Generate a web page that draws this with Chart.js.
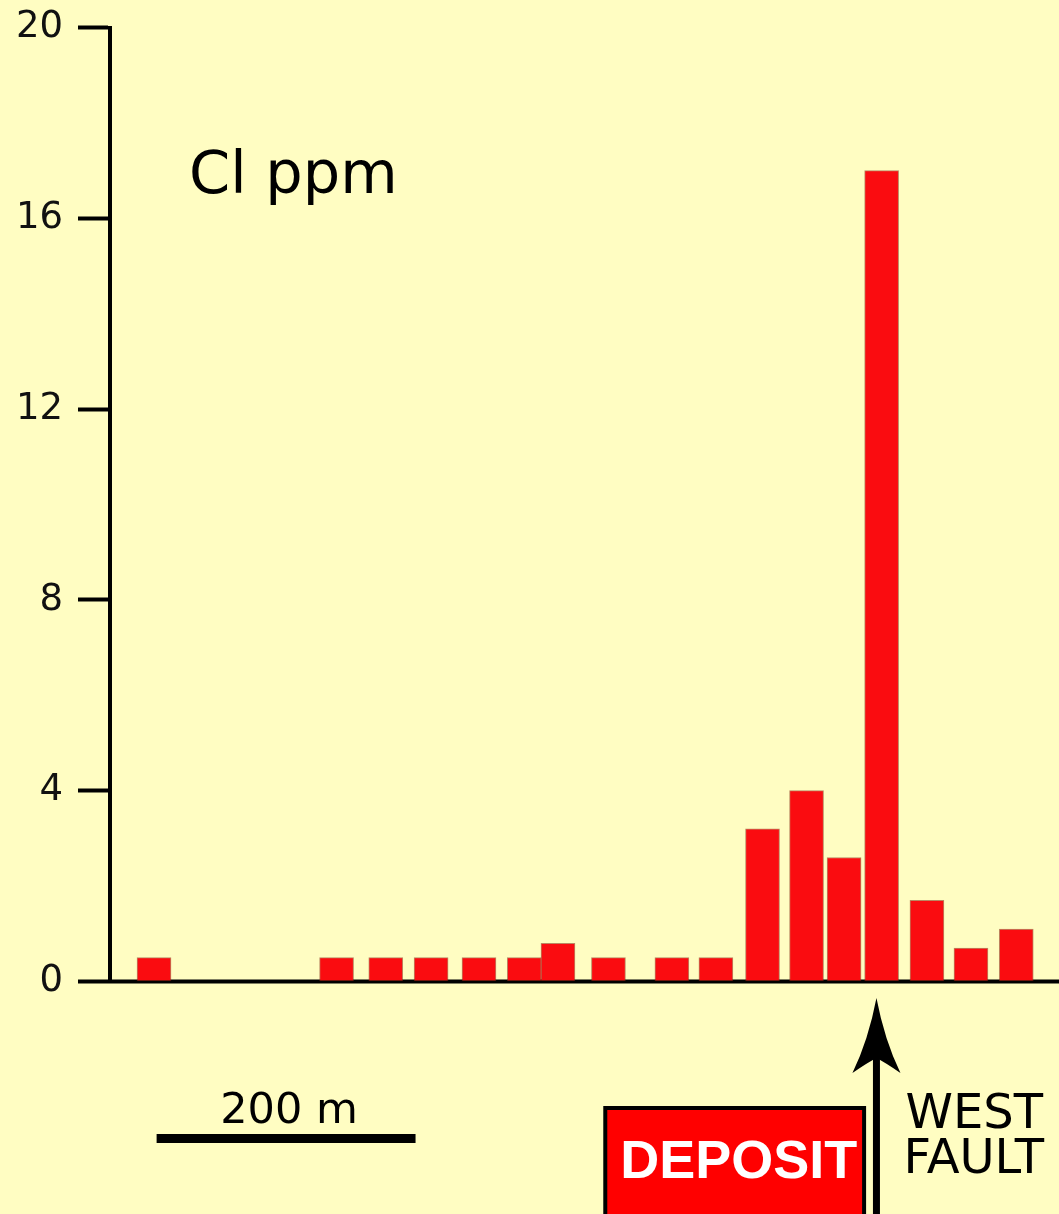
<!DOCTYPE html>
<html>
<head>
<meta charset="utf-8">
<script src="https://cdn.jsdelivr.net/npm/chart.js@4/dist/chart.umd.min.js"></script>
<style>
  html, body { margin: 0; padding: 0; background: #FFFDC2; }
  #wrap { width: 1059px; height: 1214px; }
</style>
</head>
<body>
<div id="wrap"><canvas id="chart" width="1059" height="1214"></canvas></div>
<script>
// sample positions along the traverse (m) and chloride values (ppm)
const distance_m = [34, 175, 213, 248, 285, 320, 346, 385, 434, 468, 504, 538, 567, 596, 631, 665, 700];
const cl_ppm     = [0.5, 0.5, 0.5, 0.5, 0.5, 0.5, 0.8, 0.5, 0.5, 0.5, 3.2, 4.0, 2.6, 17.0, 1.7, 0.7, 1.1];

// annotation positions (m along the traverse)
const scaleBar_m = [36, 236];
const deposit_m = [381, 584];
const fault_m = 592;

const BG = '#FFFDC2';

const points = distance_m.map((d, i) => ({ x: d, y: cl_ppm[i] }));

var decorPlugin = {
    id: 'decor',
    beforeDraw: function(chart)
    {
        const ctx = chart.ctx;
        ctx.save();
        ctx.fillStyle = BG;
        ctx.fillRect(0, 0, chart.width, chart.height);
        ctx.restore();
    },
    beforeDatasetsDraw: function(chart)
    {
        //baseline along the traverse
        const ctx = chart.ctx;
        const y0 = chart.scales.y.getPixelForValue(0);
        ctx.save();
        ctx.strokeStyle = '#000';
        ctx.lineWidth = 4;
        ctx.beginPath();
        ctx.moveTo(chart.chartArea.left - 2, y0);
        ctx.lineTo(chart.width, y0);
        ctx.stroke();
        ctx.restore();
    },
    afterDraw: function(chart)
    {
        const ctx = chart.ctx;
        const xs = chart.scales.x;
        ctx.save();

        //label
        ctx.fillStyle = '#000';
        ctx.font = '59px "DejaVu Sans"';
        ctx.textBaseline = 'alphabetic';
        ctx.textAlign = 'left';
        ctx.fillText('Cl ppm', 189, 193);

        //scale bar
        const s0 = xs.getPixelForValue(scaleBar_m[0]);
        const s1 = xs.getPixelForValue(scaleBar_m[1]);
        ctx.fillRect(s0, 1134, s1 - s0, 9);
        ctx.font = '43px "DejaVu Sans"';
        ctx.textAlign = 'center';
        ctx.fillText('200 m', (s0 + s1) / 2 + 3, 1123);

        //deposit box
        const d0 = xs.getPixelForValue(deposit_m[0]);
        const d1 = xs.getPixelForValue(deposit_m[1]);
        ctx.fillStyle = '#000';
        ctx.fillRect(d0, 1106, d1 - d0, 120);
        ctx.fillStyle = '#FF0000';
        ctx.fillRect(d0 + 4, 1110, d1 - d0 - 8, 120);
        ctx.fillStyle = '#fff';
        ctx.font = 'bold 54px "Liberation Sans"';
        ctx.textAlign = 'center';
        ctx.textBaseline = 'alphabetic';
        ctx.fillText('DEPOSIT', (d0 + d1) / 2 + 4, 1178);

        //west fault arrow
        const fx = xs.getPixelForValue(fault_m);
        ctx.fillStyle = '#000';
        ctx.fillRect(fx - 3.5, 1055, 7, 170);
        ctx.beginPath();
        ctx.moveTo(fx, 998);
        ctx.quadraticCurveTo(fx + 8, 1040, fx + 24, 1073);
        ctx.quadraticCurveTo(fx + 8, 1062, fx, 1058);
        ctx.quadraticCurveTo(fx - 8, 1062, fx - 24, 1073);
        ctx.quadraticCurveTo(fx - 8, 1040, fx, 998);
        ctx.fill();

        ctx.font = '48px "DejaVu Sans"';
        ctx.textAlign = 'left';
        ctx.fillText('WEST', fx + 29, 1128);
        ctx.fillText('FAULT', fx + 27, 1173);
        ctx.restore();
    }
};

var onload = function()
{
    const ctx = document.getElementById('chart').getContext('2d');
    new Chart(ctx, {
        'type': 'bar',
        'data': {
            'datasets': [{
                'label': 'Cl ppm',
                'data': points,
                'backgroundColor': '#FA0C10',
                'borderColor': 'rgba(130,40,20,0.55)',
                'borderWidth': 1,
                'borderSkipped': false,
                'barThickness': 34,
                'grouped': false
            }]
        },
        'options': {
            responsive: false,
            animation: false,
            devicePixelRatio: 1,
            layout: { padding: { top: 27.5, bottom: 232.5, left: 0, right: 0 } },
            plugins: { legend: { display: false }, tooltip: { enabled: false } },
            scales: {
                x: { type: 'linear', min: 0, max: 733, display: false, offset: false },
                y: {
                    min: 0, max: 20,
                    afterFit: function(scale) { scale.width = 110; scale.paddingTop = 0; scale.paddingBottom = 0; },
                    ticks: { stepSize: 4, color: '#111', padding: 15, font: { family: 'DejaVu Sans', size: 37 } },
                    grid: { drawOnChartArea: false, tickLength: 32, tickWidth: 4, color: '#000' },
                    border: { display: true, color: '#000', width: 4 }
                }
            }
        },
        'plugins': [decorPlugin]
    });
}
</script>
</body>
</html>
